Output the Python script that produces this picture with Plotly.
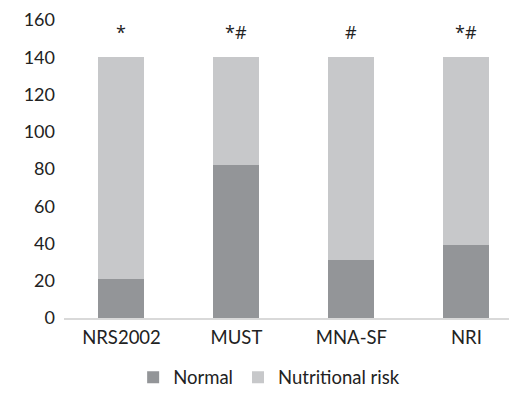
import plotly.graph_objects as go

categories = ["NRS2002", "MUST", "MNA-SF", "NRI"]
normal = [21, 82, 31, 39]
risk = [119, 58, 109, 101]
sig_labels = ["*", "*#", "#", "*#"]
y_ticks = [0, 20, 40, 60, 80, 100, 120, 140, 160]

FONT = "Lato"
fig = go.Figure()
fig.add_trace(go.Bar(x=categories, y=normal, name="Normal", marker_color="#939598",
                     marker_line_width=0))
fig.add_trace(go.Bar(x=categories, y=risk, name="Nutritional risk", marker_color="#c7c8ca",
                     marker_line_width=0))

totals = [a + b for a, b in zip(normal, risk)]
for c, t, s in zip(categories, totals, sig_labels):
    fig.add_annotation(x=c, y=t + 6, text=s, showarrow=False, yanchor="bottom",
                       font=dict(family="Open Sans", size=18, color="#222222"))

fig.update_layout(
    width=517, height=406,
    barmode="stack", bargap=0.6,
    plot_bgcolor="white", paper_bgcolor="white",
    margin=dict(l=56, r=0, t=12, b=96, autoexpand=False),
    font=dict(family=FONT, size=18.5, color="#222222"),
    xaxis=dict(range=[-0.5, 3.51], showline=True, linecolor="#d9d9d9", linewidth=2,
               ticks="", showgrid=False, ticklabelstandoff=2, automargin=False),
    yaxis=dict(range=[0, 160], tickvals=y_ticks, showgrid=False, zeroline=False,
               showline=False, ticks="", ticklabelstandoff=8, automargin=False,
               ticklabeloverflow="allow", tickfont=dict(size=18)),
    legend=dict(orientation="h", x=0.445, xanchor="center", y=-0.2, yanchor="middle",
                font=dict(size=18.5), itemwidth=30, traceorder="normal"),
)
fig.write_html("out.html")
